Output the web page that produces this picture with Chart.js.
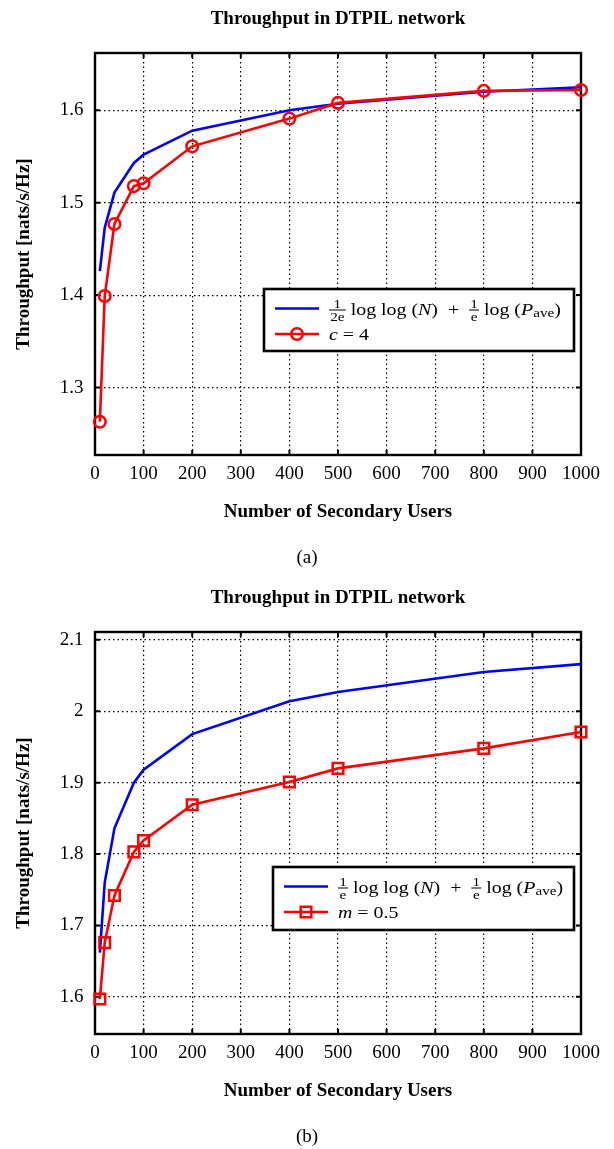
<!DOCTYPE html>
<html>
<head>
<meta charset="utf-8">
<script src="https://cdn.jsdelivr.net/npm/chart.js@4.4.1/dist/chart.umd.min.js"></script>
<style>
  html, body { margin: 0; padding: 0; background: #fff; overflow: hidden; }
  .panel { position: absolute; left: 0; width: 614px; height: 580px; }
</style>
</head>
<body>
<div class="panel" style="top:0"><canvas id="chart-a" width="614" height="580"></canvas></div>
<div class="panel" style="top:579px"><canvas id="chart-b" width="614" height="580"></canvas></div>
<script>
const users = [10, 20, 40, 80, 100, 200, 400, 500, 800, 1000];

// (a) c = 4
const boundA = [1.426, 1.473, 1.511, 1.543, 1.552, 1.578, 1.600, 1.607, 1.620, 1.625];
const simA = [1.263, 1.399, 1.477, 1.518, 1.521, 1.561, 1.591, 1.608, 1.621, 1.622];

// (b) m = 0.5
const boundB = [1.662, 1.760, 1.836, 1.900, 1.918, 1.968, 2.014, 2.027, 2.055, 2.066];
const simB = [1.597, 1.676, 1.742, 1.803, 1.819, 1.869, 1.901, 1.920, 1.948, 1.971];

const xTicks = [0, 100, 200, 300, 400, 500, 600, 700, 800, 900, 1000];
const yTicksA = [1.3, 1.4, 1.5, 1.6];
const yTicksB = [1.6, 1.7, 1.8, 1.9, 2.0, 2.1];
const yRangeA = [1.227, 1.662];
const yRangeB = [1.548, 2.111];

const chartTitle = "Throughput in DTPIL network";
const xTitle = "Number of Secondary Users";
const yTitle = "Throughput [nats/s/Hz]";

// legend labels as small math tokens
const boundLabelA = [{ frac: ["1", "2e"] }, { t: " log log (" }, { t: "N", it: true }, { t: ")  +  " },
  { frac: ["1", "e"] }, { t: " log (" }, { t: "P", it: true }, { sub: "ave" }, { t: ")" }];
const boundLabelB = [{ frac: ["1", "e"] }, { t: " log log (" }, { t: "N", it: true }, { t: ")  +  " },
  { frac: ["1", "e"] }, { t: " log (" }, { t: "P", it: true }, { sub: "ave" }, { t: ")" }];
const simLabelA = [{ t: "c", it: true }, { t: " = 4" }];
const simLabelB = [{ t: "m", it: true }, { t: " = 0.5" }];

const FONT = "'Liberation Serif', 'Times New Roman', serif";
Chart.defaults.font.family = FONT;
Chart.defaults.color = "#000";

// CM-like math text is wider than Times, so it is drawn with a slight horizontal stretch
function drawTokens(ctx, tokens, x, axis, stretch) {
  ctx.save();
  ctx.translate(x, 0);
  ctx.scale(stretch, 1);
  let cx = 0;
  tokens.forEach((tk) => {
    if (tk.frac) {
      ctx.font = `13px ${FONT}`;
      const w = Math.max(ctx.measureText(tk.frac[0]).width, ctx.measureText(tk.frac[1]).width) + 2;
      ctx.textAlign = "center";
      ctx.fillText(tk.frac[0], cx + w / 2, axis - 2);
      ctx.fillText(tk.frac[1], cx + w / 2, axis + 10.5);
      ctx.fillRect(cx, axis - 0.5, w, 1);
      ctx.textAlign = "left";
      cx += w;
    } else if (tk.sub) {
      ctx.font = `13px ${FONT}`;
      ctx.fillText(tk.sub, cx, axis + 7);
      cx += ctx.measureText(tk.sub).width;
    } else {
      ctx.font = `${tk.it ? "italic " : ""}17px ${FONT}`;
      ctx.fillText(tk.t, cx, axis + 4.5);
      cx += ctx.measureText(tk.t).width;
    }
  });
  ctx.restore();
}

const framePlugin = {
  id: "frame",
  beforeDatasetsDraw(chart) {
    const { ctx, chartArea: a, scales: { x, y } } = chart;
    ctx.save();
    ctx.strokeStyle = "#000";
    ctx.lineWidth = 2;
    ctx.beginPath();
    x.ticks.forEach((t) => {
      const px = x.getPixelForValue(t.value);
      ctx.moveTo(px, a.bottom); ctx.lineTo(px, a.bottom - 5);
      ctx.moveTo(px, a.top); ctx.lineTo(px, a.top + 5);
    });
    y.ticks.forEach((t) => {
      const py = y.getPixelForValue(t.value);
      ctx.moveTo(a.left, py); ctx.lineTo(a.left + 5, py);
      ctx.moveTo(a.right, py); ctx.lineTo(a.right - 5, py);
    });
    ctx.stroke();
    ctx.lineWidth = 2.4;
    ctx.strokeRect(a.left, a.top, a.width, a.height);
    ctx.restore();
  },
};

const legendPlugin = {
  id: "mathLegend",
  afterDatasetsDraw(chart, args, opts) {
    const { ctx, chartArea: a } = chart;
    const left = a.right - opts.right - opts.width;
    const top = a.top + opts.top;
    ctx.save();
    ctx.fillStyle = "#fff";
    ctx.fillRect(left, top, opts.width, opts.height);
    ctx.strokeStyle = "#000";
    ctx.lineWidth = 2.6;
    ctx.strokeRect(left, top, opts.width, opts.height);

    const rows = [
      { ds: chart.data.datasets[1], tokens: opts.labels[0], y: top + 19.5 },
      { ds: chart.data.datasets[0], tokens: opts.labels[1], y: top + 45 },
    ];
    rows.forEach((r) => {
      ctx.strokeStyle = r.ds.borderColor;
      ctx.lineWidth = r.ds.borderWidth;
      ctx.beginPath();
      ctx.moveTo(left + 11, r.y);
      ctx.lineTo(left + 55, r.y);
      ctx.stroke();
      if (r.ds.pointRadius > 0) {
        ctx.fillStyle = "rgba(0,0,0,0)";
        ctx.lineWidth = r.ds.pointBorderWidth;
        Chart.helpers.drawPoint(ctx, { pointStyle: r.ds.pointStyle, radius: r.ds.pointRadius, borderWidth: r.ds.pointBorderWidth, rotation: 0 }, left + 33, r.y);
      }
      ctx.fillStyle = "#000";
      ctx.textBaseline = "alphabetic";
      drawTokens(ctx, r.tokens, left + 65, r.y + 1.5, 1.17);
    });
    ctx.restore();
  },
};

function makeChart(id, cfg) {
  const toPoints = (vals) => users.map((u, i) => ({ x: u, y: vals[i] }));
  return new Chart(document.getElementById(id), {
    type: "line",
    data: {
      datasets: [
        {
          label: "sim",
          data: toPoints(cfg.sim),
          borderColor: "#ff0000",
          borderWidth: 2.6,
          pointStyle: cfg.marker,
          pointRadius: cfg.radius,
          pointBorderWidth: 2.5,
          pointBorderColor: "#ff0000",
          pointBackgroundColor: "rgba(0,0,0,0)",
          tension: 0,
          clip: false,
          order: 0,
        },
        {
          label: "bound",
          data: toPoints(cfg.bound),
          borderColor: "#0000ff",
          borderWidth: 2.6,
          pointRadius: 0,
          tension: 0,
          clip: false,
          order: 1,
        },
      ],
    },
    options: {
      responsive: false,
      animation: false,
      devicePixelRatio: 1,
      layout: { padding: 0 },
      plugins: {
        legend: { display: false },
        tooltip: { enabled: false },
        title: {
          display: true, text: chartTitle, fullSize: false, color: "#000",
          font: { size: 19, weight: "bold" }, padding: { top: 8, bottom: 22.2 },
        },
        subtitle: {
          display: true, text: cfg.caption, position: "bottom", color: "#000",
          font: { size: 19, weight: "normal" }, padding: { top: 0, bottom: 10.6 },
        },
        mathLegend: cfg.legend,
      },
      scales: {
        x: {
          type: "linear", min: 0, max: 1000,
          afterBuildTicks: (s) => { s.ticks = xTicks.map((v) => ({ value: v })); },
          afterFit: (s) => { s.height = 91.6; s.paddingLeft = 0; s.paddingRight = 33; },
          ticks: { autoSkip: false, maxRotation: 0, padding: 7.5, color: "#000", font: { size: 19 }, callback: (v) => String(v) },
          grid: { color: "#000", lineWidth: 1.2, drawTicks: false },
          border: { display: false, dash: [1.5, 3] },
          title: { display: true, text: xTitle, color: "#000", font: { size: 19, weight: "bold" }, padding: { top: 0, bottom: 23.2 } },
        },
        y: {
          type: "linear", min: cfg.range[0], max: cfg.range[1],
          afterBuildTicks: (s) => { s.ticks = cfg.yTicks.map((v) => ({ value: v })); },
          afterFit: (s) => { s.width = 95; s.paddingTop = 0; s.paddingBottom = 0; },
          ticks: { padding: 11.5, color: "#000", font: { size: 19 }, callback: (v) => String(+v.toFixed(2)) },
          grid: { color: "#000", lineWidth: 1.2, drawTicks: false },
          border: { display: false, dash: [1.5, 3] },
          title: { display: true, text: yTitle, color: "#000", font: { size: 19, weight: "bold" }, padding: { top: 12.6, bottom: 0 } },
        },
      },
    },
    plugins: [framePlugin, legendPlugin],
  });
}

makeChart("chart-a", {
  bound: boundA, sim: simA, yTicks: yTicksA, range: yRangeA,
  marker: "circle", radius: 5.8, caption: "(a)",
  legend: { right: 7, top: 236, width: 310, height: 62, labels: [boundLabelA, simLabelA] },
});

makeChart("chart-b", {
  bound: boundB, sim: simB, yTicks: yTicksB, range: yRangeB,
  marker: "rect", radius: 7.5, caption: "(b)",
  legend: { right: 7, top: 235, width: 301, height: 63, labels: [boundLabelB, simLabelB] },
});
</script>
</body>
</html>
